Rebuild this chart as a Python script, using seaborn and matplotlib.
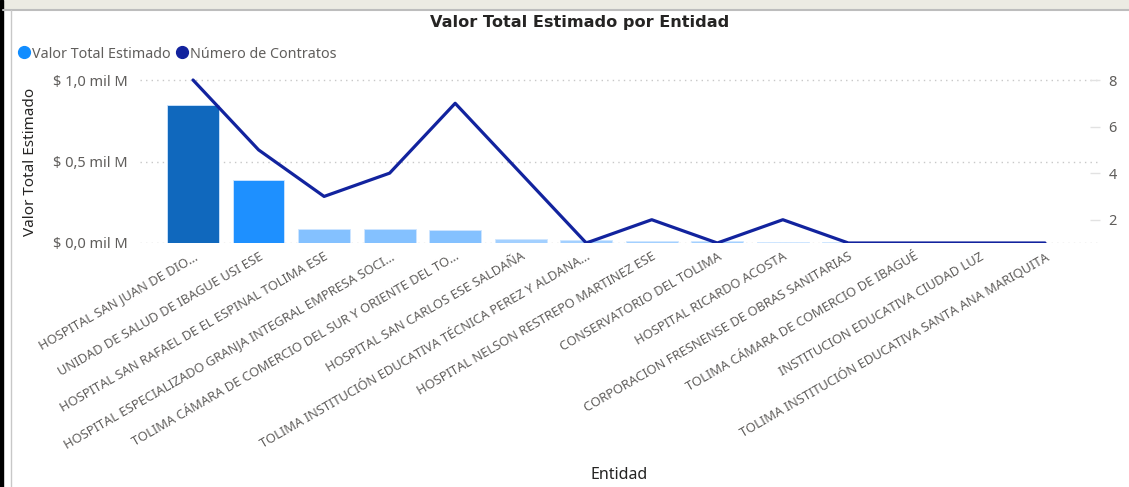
import numpy as np
import pandas as pd
import matplotlib
matplotlib.use("Agg")
import matplotlib.pyplot as plt
from matplotlib.lines import Line2D
from matplotlib.patches import Rectangle
import seaborn as sns

# ---------------- data ----------------
entidades = [
    "HOSPITAL SAN JUAN DE DIO...",
    "UNIDAD DE SALUD DE IBAGUE USI ESE",
    "HOSPITAL SAN RAFAEL DE EL ESPINAL TOLIMA ESE",
    "HOSPITAL ESPECIALIZADO GRANJA INTEGRAL EMPRESA SOCI...",
    "TOLIMA CÁMARA DE COMERCIO DEL SUR Y ORIENTE DEL TO...",
    "HOSPITAL SAN CARLOS ESE SALDAÑA",
    "TOLIMA INSTITUCIÓN EDUCATIVA TÉCNICA PEREZ Y ALDANA...",
    "HOSPITAL NELSON RESTREPO MARTINEZ ESE",
    "CONSERVATORIO DEL TOLIMA",
    "HOSPITAL RICARDO ACOSTA",
    "CORPORACION FRESNENSE DE OBRAS SANITARIAS",
    "TOLIMA CÁMARA DE COMERCIO DE IBAGUÉ",
    "INSTITUCION EDUCATIVA CIUDAD LUZ",
    "TOLIMA INSTITUCIÓN EDUCATIVA SANTA ANA MARIQUITA",
]
valor_total = [0.845, 0.385, 0.088, 0.083, 0.080, 0.025, 0.018,
               0.015, 0.012, 0.008, 0.006, 0.005, 0.004, 0.003]  # mil M
num_contratos = [8, 5, 3, 4, 7, 4, 1, 2, 1, 2, 1, 1, 1, 1]

left_ticks = [0.0, 0.5, 1.0]
left_ticklabels = ["$ 0,0 mil M", "$ 0,5 mil M", "$ 1,0 mil M"]
right_ticks = [2, 4, 6, 8]

title = "Valor Total Estimado por Entidad"
legend_labels = ["Valor Total Estimado", "Número de Contratos"]
ylabel = "Valor Total Estimado"
xlabel = "Entidad"

# ---------------- style ----------------
sns.set_theme(style="white")
plt.rcParams["font.family"] = ["Noto Sans", "DejaVu Sans"]

W, H = 1129, 487
fig = plt.figure(figsize=(W / 100, H / 100), dpi=100)
fig.patch.set_facecolor("white")

def fx(px):
    return px / W

def fy(py):
    return 1 - py / H

ax_left, ax_right, ax_top, ax_bot = 140, 1100, 70, 243
ax = fig.add_axes([fx(ax_left), fy(ax_bot), fx(ax_right - ax_left), (ax_bot - ax_top) / H])

def bar_color(v):
    if v > 0.6:
        return "#1068BD"
    if v > 0.3:
        return "#1E90FF"
    if v > 0.05:
        return "#84C1FF"
    return "#A3D0FF"

df = pd.DataFrame({"Entidad": entidades, "Valor": valor_total, "Contratos": num_contratos})
palette = {e: bar_color(v) for e, v in zip(entidades, valor_total)}

sns.barplot(data=df, x="Entidad", y="Valor", hue="Entidad", palette=palette,
            legend=False, width=0.79, ax=ax, edgecolor="#cfe6ff", linewidth=0.6,
            saturation=1)

n = len(entidades)
spacing = 65.5
ax.set_xlim(-(193 - ax_left) / spacing, (n - 1) + (ax_right - 1045) / spacing)
ax.set_ylim(0, (ax_bot - ax_top) / 163)
ax.set_yticks(left_ticks)
ax.set_yticklabels(left_ticklabels)
ax.tick_params(axis="y", length=0, pad=9, labelsize=10.5, labelcolor="#605E5C")
ax.set_xticks(range(n))
ax.set_xticklabels(entidades, rotation=30, ha="right", rotation_mode="anchor",
                   fontsize=9.3, color="#605E5C")
ax.tick_params(axis="x", length=0, pad=5)
ax.grid(axis="y", color="#C8C8C8", linestyle=(0, (1, 3)), linewidth=1)
ax.grid(axis="x", visible=False)
for s in ax.spines.values():
    s.set_visible(False)
ax.set_xlabel("")
ax.set_ylabel("")

# line on secondary axis
ax2 = ax.twinx()
sns.lineplot(x=np.arange(n), y=df["Contratos"], ax=ax2, color="#12239E",
             linewidth=2.3, sort=False)
ax2.set_ylim(1, 1 + (ax_bot - ax_top) / (163 / 7))
ax2.set_yticks(right_ticks)
ax2.tick_params(axis="y", direction="in", length=7, width=1, color="#E2E2E2",
                pad=6, labelsize=10.5, labelcolor="#605E5C")
ax2.set_ylabel("")
for s in ax2.spines.values():
    s.set_visible(False)
ax2.grid(False)

# titles and labels
fig.text(fx(580), fy(22), title, ha="center", va="center", fontsize=11.6,
         fontweight="bold", color="#252423", family=["DejaVu Sans"])
fig.text(fx(31), fy(162), ylabel, ha="center", va="center", rotation=90,
         fontsize=11, color="#252423")
fig.text(fx(619), fy(475), xlabel, ha="center", va="center",
         fontsize=11.5, color="#252423")

handles = [
    Line2D([], [], marker="o", linestyle="none", markersize=8.5,
           markerfacecolor="#118DFF", markeredgecolor="#118DFF"),
    Line2D([], [], marker="o", linestyle="none", markersize=8.5,
           markerfacecolor="#12239E", markeredgecolor="#12239E"),
]
fig.legend(handles, legend_labels, loc="center left",
           bbox_to_anchor=(fx(20), fy(54)), ncol=2, frameon=False,
           handlelength=0.6, handletextpad=0.25, columnspacing=0.5,
           borderaxespad=0, borderpad=0, fontsize=10.3, labelcolor="#605E5C")

# frame decoration
fig.add_artist(Rectangle((0, 0), fx(3), 1, transform=fig.transFigure,
                         color="black", zorder=10))
fig.add_artist(Rectangle((fx(3), fy(9)), 1, 9 / H, transform=fig.transFigure,
                         color="#ECEBE3", zorder=9))
fig.add_artist(Line2D([fx(3), 1], [fy(10), fy(10)], transform=fig.transFigure,
                      color="#BDBDBD", linewidth=1.5, zorder=10))
fig.add_artist(Line2D([fx(11), fx(11)], [0, fy(10)], transform=fig.transFigure,
                      color="#C8C8C8", linewidth=1, zorder=10))

fig.savefig("out.png", dpi=100)
